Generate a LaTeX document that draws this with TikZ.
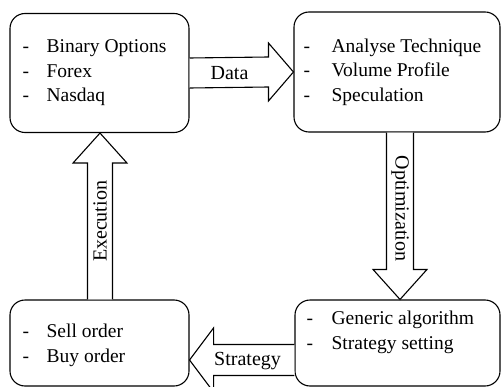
\documentclass[tikz,border=0pt]{standalone}
\usepackage{fontspec}
\setmainfont{Liberation Serif}
\usetikzlibrary{calc}
\begin{document}
\begin{tikzpicture}[x=1pt,y=-1pt,
  box/.style={draw, line width=1.1pt, rounded corners=15pt, inner sep=0pt},
  itemtext/.style={anchor=west, align=left, inner sep=0pt, font=\fontsize{19.5}{24.5}\selectfont},
  blockarrow/.style={draw, line width=1.1pt, fill=white, line join=miter},
  lbl/.style={inner sep=0pt, font=\fontsize{20}{24}\selectfont}]
\useasboundingbox (0,0) rectangle (502,387);
% boxes
\node[box, minimum width=179pt, minimum height=119pt] (b1) at (99.5,73) {};
\node[box, minimum width=206pt, minimum height=120pt] (b2) at (397,72) {};
\node[box, minimum width=179pt, minimum height=86pt] (b3) at (99.5,343) {};
\node[box, minimum width=205pt, minimum height=86pt] (b4) at (397.5,343) {};
% texts
\node[itemtext] (t1) at ($(b1.west)+(13,0)$) {\makebox[24pt][l]{-}Binary Options\\\makebox[24pt][l]{-}Forex\\\makebox[24pt][l]{-}Nasdaq};
\node[itemtext] (t2) at ($(b2.west)+(10,0)$) {\makebox[28pt][l]{-}Analyse Technique\\\makebox[28pt][l]{-}Volume Profile\\\makebox[28pt][l]{-}Speculation};
\node[itemtext] (t3) at ($(b3.west)+(13,2.5)$) {\makebox[24pt][l]{-}Sell order\\\makebox[24pt][l]{-}Buy order};
\node[itemtext] (t4) at ($(b4.west)+(12,-10.5)$) {\makebox[25pt][l]{-}Generic algorithm\\\makebox[25pt][l]{-}Strategy setting};
% Data arrow (b1 -> b2)
\draw[blockarrow] ($(b1.east)+(0,-15)$) -- ($(b2.west)+(-25,-15)$) -- ($(b2.west)+(-25,-29)$) -- (b2.west) -- ($(b2.west)+(-25,29)$) -- ($(b2.west)+(-25,15)$) -- ($(b1.east)+(0,15)$);
\node[lbl] (ldata) at ($(b1.east)+(40,0)$) {Data};
% Optimization arrow (b2 -> b4)
\coordinate (os) at ($(b2.south)+(3,0)$);
\coordinate (oe) at ($(b4.north)+(2.5,0)$);
\draw[blockarrow] ($(os)+(-13.5,0)$) -- ($(oe)+(-13.5,-30)$) -- ($(oe)+(-27,-30)$) -- (oe) -- ($(oe)+(27,-30)$) -- ($(oe)+(13.5,-30)$) -- ($(os)+(13.5,0)$);
\node[lbl, rotate=-90] (lopt) at ($(os)+(0,76)$) {Optimization};
% Strategy arrow (b4 -> b3)
\coordinate (ss) at ($(b4.west)+(0,17)$);
\coordinate (se) at ($(b3.east)+(0,17)$);
\draw[blockarrow] ($(ss)+(0,-15.5)$) -- ($(se)+(24,-15.5)$) -- ($(se)+(24,-32)$) -- (se) -- ($(se)+(24,32)$) -- ($(se)+(24,15.5)$) -- ($(ss)+(0,15.5)$);
\node[lbl] (lstr) at ($(se)+(58,1)$) {Strategy};
% Execution arrow (b3 -> b1)
\coordinate (es) at ($(b3.north)+(0.5,0)$);
\coordinate (ee) at ($(b1.south)+(0.5,0)$);
\draw[blockarrow] ($(es)+(-12.5,0)$) -- ($(ee)+(-12.5,30)$) -- ($(ee)+(-27,30)$) -- (ee) -- ($(ee)+(27,30)$) -- ($(ee)+(12.5,30)$) -- ($(es)+(12.5,0)$);
\node[lbl, rotate=90] (lexe) at ($(es)+(0,-78)$) {Execution};
\end{tikzpicture}
\end{document}
